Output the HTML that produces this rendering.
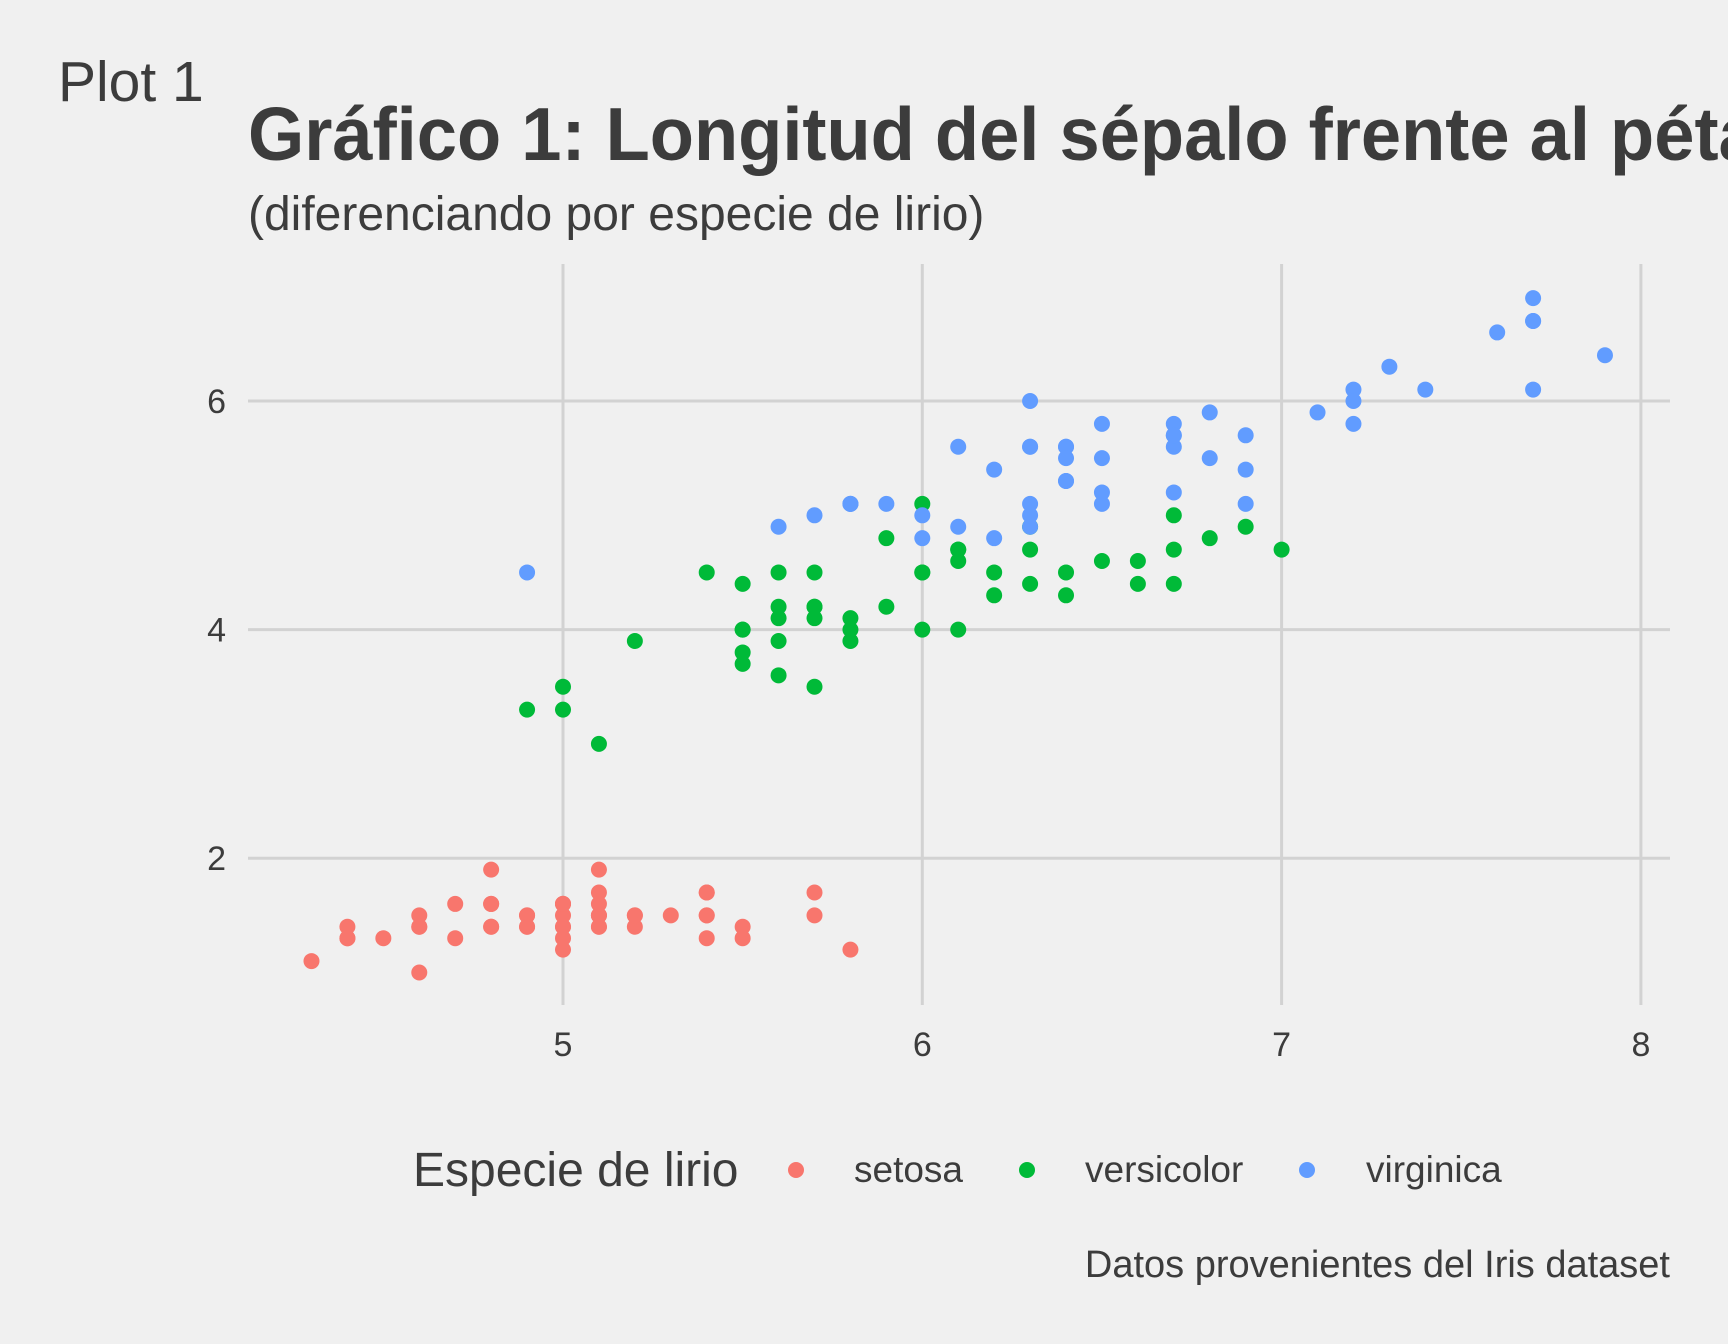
<!DOCTYPE html>
<html><head><meta charset="utf-8"><style>
html,body{margin:0;padding:0;background:#f0f0f0;}
svg{display:block;font-family:"Liberation Sans",sans-serif;}
</style></head><body>
<svg id="chart" width="1728" height="1344" viewBox="0 0 1728 1344">
<rect width="1728" height="1344" fill="#f0f0f0"/>
<text x="58" y="101" font-size="57" fill="#3c3c3c">Plot 1</text>
<text x="248" y="160" font-size="75" font-weight="bold" fill="#3c3c3c" textLength="1575" lengthAdjust="spacingAndGlyphs">Gráfico 1: Longitud del sépalo frente al pétalo</text>
<text x="248" y="230" font-size="48" fill="#3c3c3c">(diferenciando por especie de lirio)</text>
<g id="grid"></g>
<g id="points"></g>
<g id="axes"></g>
<g>
<text x="413" y="1186" font-size="48" fill="#3c3c3c">Especie de lirio</text>
<circle cx="796" cy="1170" r="8" fill="#f8766d"/>
<text x="854" y="1182" font-size="37" fill="#3c3c3c">setosa</text>
<circle cx="1027" cy="1170" r="8" fill="#00ba38"/>
<text x="1085" y="1182" font-size="37" fill="#3c3c3c">versicolor</text>
<circle cx="1307" cy="1170" r="8" fill="#619cff"/>
<text x="1366" y="1182" font-size="37" fill="#3c3c3c">virginica</text>
</g>
<text x="1670" y="1277" font-size="38" fill="#3c3c3c" text-anchor="end">Datos provenientes del Iris dataset</text>
</svg>
<script>
const xTicks=[5,6,7,8];
const yTicks=[2,4,6];
const setosaX=[5.1,4.9,4.7,4.6,5.0,5.4,4.6,5.0,4.4,4.9,5.4,4.8,4.8,4.3,5.8,5.7,5.4,5.1,5.7,5.1,5.4,5.1,4.6,5.1,4.8,5.0,5.0,5.2,5.2,4.7,4.8,5.4,5.2,5.5,4.9,5.0,5.5,4.9,4.4,5.1,5.0,4.5,4.4,5.0,5.1,4.8,5.1,4.6,5.3,5.0];
const setosaY=[1.4,1.4,1.3,1.5,1.4,1.7,1.4,1.5,1.4,1.5,1.5,1.6,1.4,1.1,1.2,1.5,1.3,1.4,1.7,1.5,1.7,1.5,1.0,1.7,1.9,1.6,1.6,1.5,1.4,1.6,1.6,1.5,1.5,1.4,1.5,1.2,1.3,1.4,1.3,1.5,1.3,1.3,1.3,1.6,1.9,1.4,1.6,1.4,1.5,1.4];
const versicolorX=[7.0,6.4,6.9,5.5,6.5,5.7,6.3,4.9,6.6,5.2,5.0,5.9,6.0,6.1,5.6,6.7,5.6,5.8,6.2,5.6,5.9,6.1,6.3,6.1,6.4,6.6,6.8,6.7,6.0,5.7,5.5,5.5,5.8,6.0,5.4,6.0,6.7,6.3,5.6,5.5,5.5,6.1,5.8,5.0,5.6,5.7,5.7,6.2,5.1,5.7];
const versicolorY=[4.7,4.5,4.9,4.0,4.6,4.5,4.7,3.3,4.6,3.9,3.5,4.2,4.0,4.7,3.6,4.4,4.5,4.1,4.5,3.9,4.8,4.0,4.9,4.7,4.3,4.4,4.8,5.0,4.5,3.5,3.8,3.7,3.9,5.1,4.5,4.5,4.7,4.4,4.1,4.0,4.4,4.6,4.0,3.3,4.2,4.2,4.2,4.3,3.0,4.1];
const virginicaX=[6.3,5.8,7.1,6.3,6.5,7.6,4.9,7.3,6.7,7.2,6.5,6.4,6.8,5.7,5.8,6.4,6.5,7.7,7.7,6.0,6.9,5.6,7.7,6.3,6.7,7.2,6.2,6.1,6.4,7.2,7.4,7.9,6.4,6.3,6.1,7.7,6.3,6.4,6.0,6.9,6.7,6.9,5.8,6.8,6.7,6.7,6.3,6.5,6.2,5.9];
const virginicaY=[6.0,5.1,5.9,5.6,5.8,6.6,4.5,6.3,5.8,6.1,5.1,5.3,5.5,5.0,5.1,5.3,5.5,6.7,6.9,5.0,5.7,4.9,6.7,4.9,5.7,6.0,4.8,4.9,5.6,5.8,6.1,6.4,5.6,5.1,5.6,6.1,5.6,5.5,4.8,5.4,5.6,5.1,5.1,5.9,5.7,5.2,5.0,5.2,5.4,5.1];

const NS='http://www.w3.org/2000/svg';
const L=248,R=1670,T=264,B=1005;
function sx(v){return 563+(v-5)*359.3;}
function sy(v){return 401+(6-v)*114.3;}
const grid=document.getElementById('grid'),axes=document.getElementById('axes'),pts=document.getElementById('points');
function mk(tag,attrs,parent){const e=document.createElementNS(NS,tag);for(const k in attrs)e.setAttribute(k,attrs[k]);parent.appendChild(e);return e;}
xTicks.forEach(t=>{
  const l=mk('line',{x1:sx(t),x2:sx(t),y1:T,y2:B,stroke:'#d2d2d2','stroke-width':3},grid);
  
  
  const tx=mk('text',{x:sx(t),y:1056,'font-size':34,fill:'#3c3c3c','text-anchor':'middle'},axes);
  tx.textContent=t;
  
  
});
yTicks.forEach(t=>{
  const l=mk('line',{x1:L,x2:R,y1:sy(t),y2:sy(t),stroke:'#d2d2d2','stroke-width':3},grid);
  
  
  const tx=mk('text',{x:226,y:sy(t)+12,'font-size':34,fill:'#3c3c3c','text-anchor':'end'},axes);
  tx.textContent=t;
  
  
});
function series(xs,ys,col,name){
  xs.forEach((x,i)=>{
    const c=mk('circle',{cx:sx(x),cy:sy(ys[i]),r:8,fill:col},pts);
    
    
  });
}
series(setosaX,setosaY,'#f8766d','setosa');
series(versicolorX,versicolorY,'#00ba38','versicolor');
series(virginicaX,virginicaY,'#619cff','virginica');
</script>
</body></html>
